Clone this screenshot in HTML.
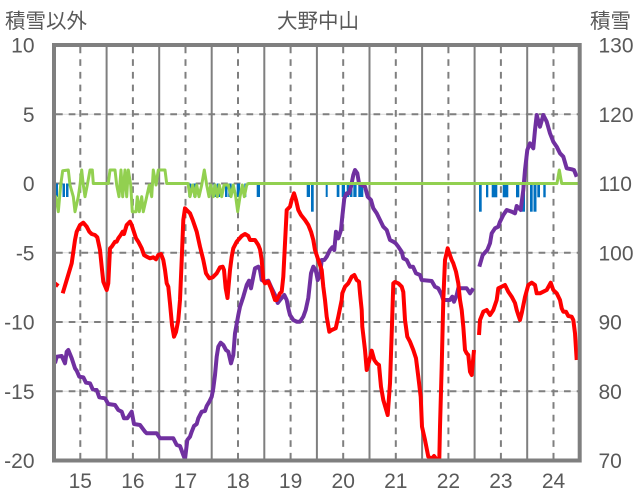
<!DOCTYPE html>
<html><head><meta charset="utf-8"><style>
html,body{margin:0;padding:0;background:#fff;}
svg{display:block;}
text{fill:#595959;font-family:"Liberation Sans","Noto Sans CJK JP",sans-serif;}
.cjk{font-family:"Noto Sans CJK JP","Liberation Sans",sans-serif;}
</style></head><body>
<svg width="636" height="501" viewBox="0 0 636 501" xmlns="http://www.w3.org/2000/svg">
<rect width="636" height="501" fill="#fff"/>
<!-- horizontal gridlines -->
<g>
<g stroke="#d9d9d9" stroke-width="1">
<line x1="54" y1="114.3" x2="580" y2="114.3"/>
<line x1="54" y1="252.8" x2="580" y2="252.8"/>
<line x1="54" y1="322" x2="580" y2="322"/>
<line x1="54" y1="391.3" x2="580" y2="391.3"/>
</g>
<g stroke="#7f7f7f" stroke-width="2" stroke-dasharray="6.7 6">
<line x1="56" y1="114.3" x2="580" y2="114.3"/>
<line x1="56" y1="183.5" x2="580" y2="183.5"/>
<line x1="56" y1="252.8" x2="580" y2="252.8"/>
<line x1="56" y1="322" x2="580" y2="322"/>
<line x1="56" y1="391.3" x2="580" y2="391.3"/>
</g>
</g>
<!-- vertical lines -->
<g stroke="#7f7f7f" stroke-width="2">
<line x1="106.6" y1="45" x2="106.6" y2="460"/>
<line x1="159.2" y1="45" x2="159.2" y2="460"/>
<line x1="211.7" y1="45" x2="211.7" y2="460"/>
<line x1="264.3" y1="45" x2="264.3" y2="460"/>
<line x1="316.9" y1="45" x2="316.9" y2="460"/>
<line x1="369.5" y1="45" x2="369.5" y2="460"/>
<line x1="422.1" y1="45" x2="422.1" y2="460"/>
<line x1="474.6" y1="45" x2="474.6" y2="460"/>
<line x1="527.2" y1="45" x2="527.2" y2="460"/>
</g>
<g stroke="#7f7f7f" stroke-width="2" stroke-dasharray="6.7 6">
<line x1="80.3" y1="46.5" x2="80.3" y2="460"/>
<line x1="132.9" y1="46.5" x2="132.9" y2="460"/>
<line x1="185.5" y1="46.5" x2="185.5" y2="460"/>
<line x1="238" y1="46.5" x2="238" y2="460"/>
<line x1="290.6" y1="46.5" x2="290.6" y2="460"/>
<line x1="343.2" y1="46.5" x2="343.2" y2="460"/>
<line x1="395.8" y1="46.5" x2="395.8" y2="460"/>
<line x1="448.4" y1="46.5" x2="448.4" y2="460"/>
<line x1="500.9" y1="46.5" x2="500.9" y2="460"/>
<line x1="553.5" y1="46.5" x2="553.5" y2="460"/>
</g>
<!-- blue bars -->
<g fill="#0070C0">
<rect x="55" y="183.5" width="3" height="13.5"/>
<rect x="62.5" y="183.5" width="2.5" height="13.5"/>
<rect x="66" y="183.5" width="2.5" height="13.5"/>
<rect x="188.3" y="183.5" width="3" height="13.5"/>
<rect x="193.3" y="183.5" width="3.3" height="13.5"/>
<rect x="213.3" y="183.5" width="2.7" height="13.5"/>
<rect x="216.7" y="183.5" width="3.3" height="13.5"/>
<rect x="225" y="183.5" width="2.5" height="13.5"/>
<rect x="228.3" y="183.5" width="3.3" height="13.5"/>
<rect x="236.7" y="183.5" width="3.3" height="13.5"/>
<rect x="244.3" y="183.5" width="2" height="13.5"/>
<rect x="256.7" y="183.5" width="3.3" height="13.5"/>
<rect x="306.7" y="183.5" width="3.3" height="13.5"/>
<rect x="311" y="183.5" width="2.7" height="28.2"/>
<rect x="325.7" y="183.5" width="2" height="13.5"/>
<rect x="336.7" y="183.5" width="2.7" height="13.5"/>
<rect x="341.7" y="183.5" width="3.3" height="13.5"/>
<rect x="346.7" y="183.5" width="2.5" height="13.5"/>
<rect x="350" y="183.5" width="2.5" height="13.5"/>
<rect x="353.3" y="183.5" width="3.3" height="13.5"/>
<rect x="358.3" y="183.5" width="5" height="13.5"/>
<rect x="479" y="183.5" width="2.7" height="28.2"/>
<rect x="486" y="183.5" width="2.3" height="13.8"/>
<rect x="491.7" y="183.5" width="5.6" height="13.8"/>
<rect x="502.7" y="183.5" width="5.6" height="13.8"/>
<rect x="516" y="183.5" width="3.3" height="13.8"/>
<rect x="521.7" y="183.5" width="3.3" height="28.2"/>
<rect x="530" y="183.5" width="2.7" height="28.2"/>
<rect x="533.5" y="183.5" width="3" height="28.2"/>
<rect x="537.3" y="183.5" width="2.7" height="13.8"/>
<rect x="543.3" y="183.5" width="2.4" height="13.8"/>
</g>
<!-- purple -->
<g fill="none" stroke="#7030A0" stroke-width="4" stroke-linejoin="round" stroke-linecap="butt">
<polyline points="55,363.3 56.7,356.7 61.7,356 65,363.3 66.7,351.7 68.3,350 71.7,358.3 75,368.3 76.7,370.7 79.3,376.7 83.3,377.3 86,382.7 90,383.3 92.7,389.3 96.7,390 99.3,397.3 105,398.3 108.3,404 115,405 118.3,410 121.7,411.7 124,418.3 127.3,418.3 131.7,411.7 134,424 140,425 145,431.7 146.7,433.3 156.7,433.3 160,438.3 173.3,438.3 176.7,445 180,446 183.3,455 185,459.3 187.3,440 190,436.7 191.7,431.7 194,426 196.7,424 198.3,418.3 201.7,411.7 205,411 206.7,406 209.3,401.7 211.7,396.7 213.3,388.3 215,375 216.7,356.7 218.3,346.7 220.7,342.7 223.3,345 226,350 228.3,351.7 231,363.3 233.3,355 235,333.3 238.3,315 240,306.7 243.3,296.7 246.7,285 249,280.7 251,288.3 253.3,276.7 255,268.3 258.3,266.7 260,270 261.7,280 265,281.7 268.3,280.7 271.7,288.3 275,295 277.7,303 280,300 284.3,295 286.7,300 288.3,308.3 290,315 293.3,320 296.7,321.7 300,321.7 303.3,316.7 305.7,310 308.3,298 311,273.3 313.3,266.7 315.7,270 317.7,280 320,275 321.7,260 324.3,260 326.7,256.7 330,250 332.3,247.3 334.3,250 336,231.7 338.3,238.3 341,230 342.3,216.7 344.3,198.3 346.7,193.3 349,193.3 351,186.7 353.3,175 355,170 357.3,173.3 359,183.3 361.7,185 365,186.7 367.7,196.7 371,200 373.3,208.3 376.7,213.3 380,220 383.3,226.7 386.7,230 390,240 393.3,241.7 395.7,243.3 398.3,246.7 401.7,251.7 403.3,258.3 406.7,260 410,266.7 413,266.7 416,273.3 420,275 421.7,280 431.7,281 435,286.7 438.3,288.3 441.7,295 443.3,300 450,300 452.3,296.7 454,301.7 456.7,295 458.3,288.3 463.3,288.3 466.7,288.3 470,293.3 473.3,288.3"/>
<polyline points="479.3,266.7 482.7,255 487.3,250 490,243.3 491.7,233.3 495,228.3 498.3,226.7 500,221.7 503.3,215 506.7,210 511.7,211.7 515,213.3 516.7,206 520.7,210 523.3,190 525,170 527.3,150 530,143.3 533.3,148.3 535,130 536.7,115 540,126.7 543.3,115 546.7,121.7 550,133.3 553.3,141.7 556.7,146.7 560,153.3 563.3,156.7 566.7,168.3 571.7,169.3 574,170 576.7,176.7"/>
</g>
<!-- red -->
<g fill="none" stroke="#FF0000" stroke-width="4" stroke-linejoin="round" stroke-linecap="butt">
<polyline points="54,282.7 58.3,286"/>
<polyline points="62.7,293.3 66.7,280 71.7,263.3 75,240 76.7,231.7 80,225 83.3,222.7 86.7,226.7 89.3,231.7 91.7,234 95,235 97.3,237.3 100,250 101.7,266.7 103.3,281.7 106.7,290 108.3,283.3 110,248.3 111.7,246.7 115,241.7 116.7,241.7 118.3,238.3 120.7,235 122.7,231.7 124,234 126.7,225 130,221.7 131.7,225 133.3,230 136,238.3 138.3,241.7 141.7,248.3 144,255 146.7,256.7 150,258.3 153.3,257.3 156,259.3 158.3,255 161,254 163.3,260 165,270 166.7,283.3 168.3,286.7 170,303.3 172,325 174,336.7 176,332 178.3,320 180,300 181.7,260 183.3,220 185,208.3 186.7,210 190,213.3 192.7,220 195,226.7 196.7,231.7 200,246.7 203.3,260 206,273.3 209.3,278.3 212.7,277.3 216.7,273.3 220,267.3 222.7,266.7 224,270 225.7,288.3 227.5,298 230,270 231.7,256.7 233.3,248.3 236.7,241.7 241.7,236 245,234 248.3,236 250,240 255,240 258.3,245 260,249.3 261.7,260 263.3,280 265,283.3 268.3,281.7 271.7,290 275,300 276.7,300 280,293.3 281.7,291.7 283.3,276.7 285,243.3 286.7,210 290,206.7 291.7,200 294,193.3 296,200 298.3,210 301,215 305,220 308.3,225 311,231.7 313.3,240 315,250 318.3,260 321.7,270 323.3,286.7 325,300 326.7,316.7 329.3,331.7 331.7,330 335.7,328.3 338.3,316.7 341.7,300 342.3,293.3 345,286.7 348.3,283.3 351.7,276.7 354.3,275 356.7,280 359,281.7 360,293.3 361.7,310 362.3,326.7 365,350 366.7,370 369,361.7 371.7,350.7 374.3,360 376.7,363.3 379,365 381,386.7 383.3,400 387.7,415 390,383.3 391.7,333.3 393.3,283.3 395,282 398.3,283.3 401.7,286.7 403.3,292 405,320 407.3,336.7 410,341.7 413.3,350 416,358.3 418.3,376.7 420.7,396.7 422,426.7 425,440 428.3,456.7 431.7,458.7 434,456 436,458.7 439.3,459.3 440,426.7 441.7,366.7 443.3,300 445,260 447.7,248.3 449.3,253.3 451.7,260 453.3,263.3 456,271.7 458.3,283.3 460,300 461.7,310 463.3,326.7 465,350 466.7,353.3 468.3,355 470,371.7 471.7,375 474,350"/>
<polyline points="479,335 480,320 483.3,311.7 486.7,310 490,315 493.3,310 496.7,300 498.3,288.3 501.7,286.7 505,285 508.3,291.7 511.7,296.7 515,303 516.7,310 518.3,315 520,320 521.7,313.3 525,297 528.3,285 531.7,282.7 535,285 536.7,293.3 540,293.3 543.3,291.7 546.7,290 550.7,282.7 553.3,290 556.7,293.3 560,300 561.7,308.3 563.3,311.7 566,311.7 568.3,316 571.7,316.7 573.3,320 575,333.3 576.7,360"/>
</g>
<!-- green -->
<polyline fill="none" stroke="#92D050" stroke-width="3" stroke-linejoin="round" points="54,196.7 56,196.7 58.3,211.7 60.7,185 62.7,170.7 68.3,170 70,185 73.3,196.7 75,211.7 78.3,196.7 80,185 81.7,170 83.3,185 85,196.7 87.3,185 90,170 92.3,170 93.3,183.5 108.3,183.5 110,170 115,170 116.7,185 119,196.7 121,170 122.7,196.7 125,170 126.7,196.7 128.3,170 130.7,185 132.3,211.7 136,211.7 137.3,196.7 139.3,211.7 141.7,196.7 143.3,211.7 146.7,196.7 149.3,185 151.7,196.7 153.3,170 156,185 158.3,170 165,170 166.7,183.5 188,183.5 190,196.7 192.7,185 195,196.7 196.7,185 199,196.7 201.7,185 204.3,170 206.7,185 209,196.7 210.7,185 213.3,196.7 215,185 217.3,196.7 219.3,185 221.7,196.7 224,185 228.3,185 231,196.7 233.3,185 235.7,196.7 237.7,211.7 240,196.7 242.3,185 244.3,196.7 246.7,185 248.3,183.5 557,183.5 559.3,170 561.7,183.5 578,183.5"/>
<!-- frame -->
<rect x="54" y="45" width="525.7" height="415.5" fill="none" stroke="#7f7f7f" stroke-width="4"/>
<!-- left axis labels -->
<g font-size="21" text-anchor="end">
<text x="34.5" y="52.7">10</text>
<text x="34.5" y="122">5</text>
<text x="34.5" y="191.2">0</text>
<text x="34.5" y="260.5">-5</text>
<text x="34.5" y="329.7">-10</text>
<text x="34.5" y="399">-15</text>
<text x="34.5" y="468.2">-20</text>
</g>
<!-- right axis labels -->
<g font-size="21" text-anchor="start">
<text x="598.5" y="52.7">130</text>
<text x="598.5" y="122">120</text>
<text x="598.5" y="191.2">110</text>
<text x="598.5" y="260.5">100</text>
<text x="598.5" y="329.7">90</text>
<text x="598.5" y="399">80</text>
<text x="598.5" y="468.2">70</text>
</g>
<!-- x labels -->
<g font-size="21" text-anchor="middle">
<text x="80.3" y="488">15</text>
<text x="132.9" y="488">16</text>
<text x="185.5" y="488">17</text>
<text x="238" y="488">18</text>
<text x="290.6" y="488">19</text>
<text x="343.2" y="488">20</text>
<text x="395.8" y="488">21</text>
<text x="448.4" y="488">22</text>
<text x="500.9" y="488">23</text>
<text x="553.5" y="488">24</text>
</g>
<!-- titles -->
<text class="cjk" x="5" y="28" font-size="20.5">積雪以外</text>
<text class="cjk" x="318" y="28" font-size="20.5" text-anchor="middle">大野中山</text>
<text class="cjk" x="590" y="28" font-size="20.5">積雪</text>
</svg>
</body></html>
